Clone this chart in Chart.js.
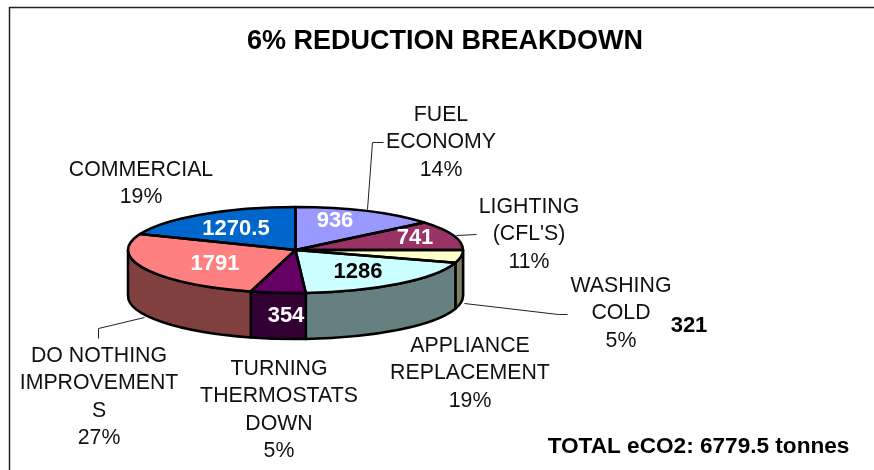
<!DOCTYPE html>
<html><head><meta charset="utf-8">
<style>html,body{margin:0;padding:0;background:#fff}canvas{display:block}</style>
<script src="https://cdn.jsdelivr.net/npm/chart.js@4/dist/chart.umd.min.js"></script>
</head><body><canvas id="c" width="874" height="470" style="width:874px;height:470px"></canvas>
<script>
const categories = ["FUEL ECONOMY","LIGHTING (CFL'S)","WASHING COLD","APPLIANCE REPLACEMENT","TURNING THERMOSTATS DOWN","DO NOTHING IMPROVEMENTS","COMMERCIAL"];
const tonnes = [936,741,321,1286,354,1791,1270.5];
const percents = ["14%","11%","5%","19%","5%","27%","19%"];
const topColors = ["#9999FF","#993366","#FFFFCC","#CCFFFF","#660066","#FF8080","#0066CC"];
const sideColors = ["#4D4D80","#4D1A33","#808066","#668080","#330033","#804040","#003366"];
const valueColors = ["#fff","#fff","#000","#000","#fff","#fff","#fff"];
const titleText = "6% REDUCTION BREAKDOWN";
const totalText = "TOTAL eCO2: 6779.5 tonnes";
const FONT = '"Liberation Sans", Arial, sans-serif';
// annotation layout (separate from the data)
const valuePos = [[335,221],[415,238],[689,326],[358,272],[286,316],[215,264],[236,229]];
const labelLines = [
 {x:441,y:115,lines:["FUEL","ECONOMY","14%"]},
 {x:529,y:207,lines:["LIGHTING","(CFL'S)","11%"]},
 {x:621,y:286,lines:["WASHING","COLD","5%"]},
 {x:470,y:346,lines:["APPLIANCE","REPLACEMENT","19%"]},
 {x:279,y:369,lines:["TURNING","THERMOSTATS","DOWN","5%"]},
 {x:99,y:356,lines:["DO NOTHING","IMPROVEMENT","S","27%"]},
 {x:141,y:170,lines:["COMMERCIAL","19%"]}
];
const leaders = [
 [[367,209],[372,142],[383,142]],
 [[456,235],[476,234]],
 [[464,303],[558,314],[567,314]],
 [[144,317],[98,328],[98,338]]
];
const DEPTH = 46, SQUASH = 43/167.5;
const BLACK = "#000";

function ellipsePath(ctx,cx,cy,r,a0,a1,ccw){ ctx.ellipse(cx,cy,r,r*SQUASH,0,a0,a1,!!ccw); }

const pie3d = {
 id:'pie3d',
 beforeDraw(chart){
  const {ctx,width,height}=chart;
  ctx.save();
  ctx.fillStyle="#fff";ctx.fillRect(0,0,width,height);
  ctx.strokeStyle="#222";ctx.lineWidth=1.5;
  ctx.beginPath();ctx.moveTo(9.5,height);ctx.lineTo(9.5,7.5);ctx.lineTo(width,7.5);ctx.stroke();
  ctx.fillStyle=BLACK;ctx.textAlign="center";ctx.textBaseline="alphabetic";
  ctx.font='bold 27px '+FONT;ctx.fillText(titleText,445,49);
  ctx.restore();
 },
 beforeDatasetsDraw(chart){
  const {ctx}=chart, arcs=chart.getDatasetMeta(0).data;
  const cx=arcs[0].x, cy=arcs[0].y, R=arcs[0].outerRadius;
  ctx.save();
  ctx.lineWidth=2.5;ctx.strokeStyle=BLACK;ctx.lineJoin="round";
  arcs.forEach((a,i)=>{
   // portion of each slice on the near half of the rim
   let s=a.startAngle, e=a.endAngle;
   const ranges=[[0,Math.PI],[2*Math.PI,3*Math.PI]];
   ranges.forEach(([lo,hi])=>{
    const s2=Math.max(s,lo), e2=Math.min(e,hi);
    if(e2<=s2) return;
    ctx.beginPath();
    ellipsePath(ctx,cx,cy,R,s2,e2);
    ellipsePath(ctx,cx,cy+DEPTH,R,e2,s2,true);
    ctx.closePath();
    ctx.fillStyle=sideColors[i];ctx.fill();ctx.stroke();
   });
  });
  ctx.restore();
  ctx.save();
  ctx.translate(cx,cy);ctx.scale(1,SQUASH);ctx.translate(-cx,-cy);
 },
 afterDatasetsDraw(chart){
  const {ctx}=chart, arcs=chart.getDatasetMeta(0).data;
  ctx.restore();
  const cx=arcs[0].x, cy=arcs[0].y, R=arcs[0].outerRadius;
  ctx.save();
  ctx.lineWidth=2.5;ctx.strokeStyle=BLACK;ctx.lineJoin="round";
  arcs.forEach(a=>{
   ctx.beginPath();ctx.moveTo(cx,cy);
   ellipsePath(ctx,cx,cy,R,a.startAngle,a.endAngle);
   ctx.closePath();ctx.stroke();
  });
  // leader lines
  ctx.lineWidth=1;ctx.strokeStyle="#222";
  leaders.forEach(l=>{ctx.beginPath();l.forEach((p,i)=>i?ctx.lineTo(p[0]+.5,p[1]+.5):ctx.moveTo(p[0]+.5,p[1]+.5));ctx.stroke();});
  // category labels
  ctx.textAlign="center";ctx.textBaseline="middle";ctx.fillStyle="#111";
  ctx.font='21.3px '+FONT;
  labelLines.forEach(b=>b.lines.forEach((t,i)=>ctx.fillText(t,b.x,b.y+i*27.5)));
  // values
  ctx.font='bold 22px '+FONT;
  tonnes.forEach((v,i)=>{ctx.fillStyle=valueColors[i];ctx.fillText(String(v),valuePos[i][0],valuePos[i][1]);});
  ctx.font='bold 22.6px '+FONT;ctx.fillStyle=BLACK;
  ctx.fillText(totalText,698.5,447);
  ctx.restore();
 }
};

new Chart(document.getElementById('c'),{
 type:'pie',
 data:{labels:categories,datasets:[{data:tonnes,backgroundColor:topColors,borderWidth:0,hoverOffset:0}]},
 options:{
  responsive:false,animation:false,devicePixelRatio:1,
  rotation:0,
  layout:{padding:{left:128,right:411,top:82.5,bottom:52.5}},
  plugins:{legend:{display:false},tooltip:{enabled:false},title:{display:false}}
 },
 plugins:[pie3d]
});
</script>
</body></html>
